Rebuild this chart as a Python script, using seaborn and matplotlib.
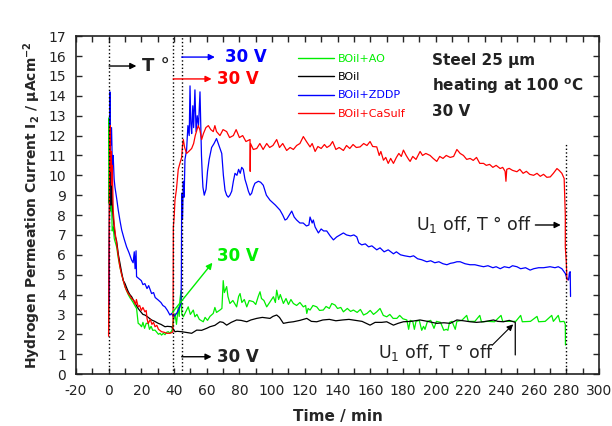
import matplotlib
matplotlib.use("Agg")
import matplotlib.pyplot as plt
import seaborn as sns
import pandas as pd

# ---- data (time in min, current in uA/cm2) ----
boil_t = [0, 0.3, 0.6, 1.0, 1.4, 1.8, 2.2, 2.8, 3.5, 4.2, 4.9, 6, 6.9, 8, 9, 10, 11, 12, 13, 14.1,
          15, 16, 17, 18.1, 19, 20, 21, 22.2, 23.5, 25, 26.3, 28, 30.4, 32, 34.5, 36, 38.5, 39.3, 40.6, 42,
          44.7, 47, 50.8, 53.9, 56.9, 60, 62, 65, 68.1, 70, 72.2, 75, 78.3, 81, 84.5, 87, 90.6, 94, 98.7, 100.5,
          102.8, 104.5, 106.9, 110, 113, 117, 121.2, 124, 127.3, 131, 135, 139, 143, 147, 151, 155, 159.9, 163, 167, 170.1,
          174.2, 177, 180.3, 185, 190.5, 195, 200.7, 205, 208.9, 213, 217, 221.1, 225, 229.3, 235.4, 238, 241.5, 245, 247.6, 248.7,
          248.7]
boil_i = [2.0, 6.0, 9.0, 10.5, 8.5, 10.2, 8.6, 7.9, 7.3, 6.9, 6.7, 6.0, 5.6, 5.1, 4.7, 4.56, 4.35, 4.15, 4.0, 3.89,
          3.75, 3.6, 3.45, 3.3, 3.2, 3.1, 3.0, 2.97, 2.9, 2.8, 2.72, 2.66, 2.55, 2.5, 2.38, 2.4, 2.38, 2.3, 2.13, 2.15,
          2.13, 2.1, 2.05, 2.21, 2.2, 2.3, 2.38, 2.45, 2.63, 2.6, 2.46, 2.6, 2.72, 2.7, 2.63, 2.72, 2.8, 2.85, 2.8, 2.9,
          2.97, 2.85, 2.55, 2.6, 2.63, 2.7, 2.8, 2.65, 2.63, 2.72, 2.75, 2.68, 2.72, 2.75, 2.7, 2.65, 2.46, 2.6, 2.6, 2.63,
          2.46, 2.55, 2.63, 2.65, 2.72, 2.65, 2.55, 2.58, 2.55, 2.72, 2.68, 2.63, 2.6, 2.63, 2.72, 2.65, 2.63, 2.7, 2.63, 2.6,
          0.96]

ao_t = [0, 0.3, 0.6, 1.0, 1.4, 1.8, 2.2, 2.8, 3.5, 4.9, 6, 6.9, 8, 9, 10, 11, 12, 13, 14.1, 15,
        16, 17.1, 17.6, 18.1, 19, 20.2, 21, 22, 23, 24.2, 25, 26, 27, 28.4, 29.5, 30.5, 31.5, 32.4, 33.5, 34.5,
        35.5, 36.5, 37.5, 38.8, 39.5, 40.6, 41.5, 42.6, 43.2, 43.6, 44.3, 44.8, 45.7, 47, 48.7, 50, 51.8, 52.8, 54, 55.5,
        57.9, 59, 60.5, 62, 64, 65, 66, 68.1, 69.3, 70.1, 70.8, 72.2, 73, 74.2, 76, 78.3, 79.5, 80.4, 81.5, 83,
        84.5, 86, 88.5, 90, 91.5, 92.6, 93.5, 95, 96.7, 98.5, 100.8, 102, 102.8, 104, 105, 106.9, 108.5, 110, 111.5, 113,
        115, 117, 119.1, 120.5, 121.2, 122, 123.2, 125, 127.3, 129, 131.3, 133, 135, 136.5, 138.5, 140, 142, 143.6, 146, 148,
        149.7, 152, 154, 155.9, 158, 160, 162, 164, 166, 168, 170.1, 172, 174, 176.3, 178, 180, 182.4, 183.5, 184.5, 186,
        187, 188, 190, 191.5, 192.6, 193.5, 195, 197, 199, 200.5, 203, 205, 206.5, 207.5, 208.5, 210, 212, 213, 216, 219,
        220, 224, 227, 228, 232, 236, 240, 241, 245, 249, 252, 253, 258, 262, 263, 267, 271, 272, 275, 276,
        278.5, 279.3, 279.4]
ao_i = [8.6, 12.9, 10.5, 12.0, 8.2, 8.75, 7.2, 7.4, 6.8, 6.4, 5.8, 5.4, 5.0, 4.7, 4.4, 4.2, 4.0, 3.85, 3.72, 3.6,
        3.45, 3.3, 2.9, 2.55, 2.5, 2.38, 2.6, 2.3, 2.55, 2.55, 2.25, 2.4, 2.2, 2.21, 2.1, 2.0, 2.05, 1.96, 2.05, 1.98,
        2.1, 2.13, 2.05, 2.2, 2.6, 3.05, 2.5, 3.38, 2.9, 3.7, 4.2, 3.0, 2.88, 3.1, 3.38, 3.0, 3.22, 2.88, 3.0, 2.75,
        2.63, 2.85, 2.7, 2.9, 3.05, 3.35, 3.1, 3.22, 3.3, 4.7, 4.1, 4.4, 3.9, 3.55, 3.7, 3.38, 3.9, 4.05, 3.6, 3.75,
        3.38, 3.7, 3.64, 3.5, 3.9, 4.14, 3.8, 3.7, 3.38, 3.6, 3.89, 3.6, 4.22, 3.75, 4.0, 3.55, 3.8, 3.5, 3.75, 3.55,
        3.45, 3.6, 3.38, 3.45, 3.05, 3.3, 3.22, 3.45, 3.38, 3.2, 3.22, 3.4, 3.3, 3.55, 3.47, 3.3, 3.35, 3.13, 3.3, 3.15,
        3.22, 3.1, 3.25, 2.97, 3.05, 3.2, 3.0, 3.13, 3.3, 2.95, 2.88, 3.0, 2.8, 2.8, 2.95, 2.78, 2.72, 2.25, 2.7, 2.65,
        2.25, 2.65, 2.7, 2.2, 2.4, 2.25, 2.65, 2.7, 2.3, 2.65, 2.6, 2.2, 2.25, 2.2, 2.6, 2.65, 2.25, 2.65, 2.7, 2.95,
        2.65, 2.65, 2.95, 2.63, 2.65, 2.63, 2.95, 2.65, 2.65, 2.65, 2.95, 2.63, 2.65, 2.9, 2.63, 2.65, 2.95, 2.65, 2.95, 2.63,
        2.65, 2.5, 1.46]

zddp_t = [0.3, 0.6, 0.8, 1.2, 1.8, 2.3, 2.8, 3.4, 3.9, 5, 5.9, 7, 8, 9.5, 11, 12.5, 14.1, 15, 15.7, 16.2,
          16.8, 17.1, 18.5, 20, 21, 22.2, 23.5, 24.5, 26.3, 27.5, 28.5, 30.4, 32, 33.2, 34.5, 36, 37.5, 38.5, 39.6, 40.5,
          41.6, 42.5, 43.6, 44.3, 44.5, 44.7, 45.2, 45.7, 46.2, 46.7, 47.7, 48.5, 49.3, 49.8, 50.3, 50.8, 51.5, 52, 52.8, 53.5,
          54.2, 55, 55.9, 56.4, 56.8, 57.3, 57.7, 58.5, 59.6, 60.5, 61.5, 63, 64.5, 66, 67.5, 69.2, 70.2, 71.2, 72.2, 73.2,
          74.2, 75.3, 76.3, 77.3, 78.5, 79.5, 80.5, 81.4, 82.4, 83.4, 84.5, 85.5, 86.5, 87.5, 88.5, 89.5, 91.6, 93, 94.6, 96.5,
          98.7, 100, 102, 104.8, 106.5, 107.9, 109, 110.5, 112, 113.5, 115, 117, 119, 121, 122.5, 123.2, 124.5, 125.2, 126.3, 128.3,
          130, 131.5, 133.4, 135.5, 137.5, 139.5, 141.5, 143.6, 145.5, 148, 150, 151.8, 153, 154.8, 157, 159, 161, 164, 166, 168.5,
          171, 174.2, 176, 178.5, 181, 184.4, 186.5, 189, 191.5, 194.6, 197, 199.5, 202, 204.5, 206.9, 209, 211, 213, 215, 218,
          221, 224, 226.5, 229.3, 232, 235, 237, 239.5, 242, 245, 247, 249.7, 252, 255, 257.8, 260, 263, 266, 270, 273,
          275, 277.2, 279.3, 280.3, 281.3, 281.8, 282.3, 282.5]
zddp_i = [3.5, 9.0, 14.2, 11.5, 12.4, 10.5, 11.0, 9.8, 9.4, 8.8, 8.25, 7.7, 7.25, 6.8, 6.4, 6.1, 5.73, 5.6, 6.15, 5.3,
          6.2, 4.9, 4.8, 4.7, 4.5, 4.55, 4.3, 4.45, 4.05, 4.1, 3.85, 3.72, 3.6, 3.45, 3.38, 3.2, 2.97, 3.05, 2.88, 2.95,
          3.05, 3.2, 3.38, 3.6, 4.9, 9.1, 7.8, 9.7, 8.9, 10.8, 11.27, 12.5, 12.0, 14.5, 12.6, 12.1, 13.5, 12.4, 14.3, 12.2,
          13.0, 12.5, 14.2, 12.5, 11.0, 10.0, 9.4, 9.0, 9.3, 10.2, 10.8, 11.4, 11.6, 11.85, 11.5, 11.1, 10.0, 9.25, 9.0, 8.9,
          9.0, 9.2, 9.7, 10.1, 10.0, 10.3, 10.1, 10.4, 10.3, 9.8, 9.5, 9.2, 9.0, 9.1, 9.4, 9.6, 9.7, 9.65, 9.5, 9.0,
          8.75, 8.65, 8.5, 8.25, 8.0, 7.75, 7.8, 8.0, 8.2, 7.9, 7.75, 7.6, 7.6, 7.45, 7.5, 7.9, 7.6, 7.75, 7.4, 7.1,
          7.3, 7.2, 7.2, 6.95, 6.75, 6.9, 7.0, 7.1, 7.0, 6.95, 7.0, 6.9, 6.6, 6.5, 6.55, 6.4, 6.45, 6.25, 6.35, 6.15,
          6.25, 6.05, 6.15, 6.0, 5.95, 5.9, 5.95, 5.8, 5.75, 5.65, 5.7, 5.6, 5.65, 5.55, 5.5, 5.57, 5.6, 5.65, 5.65, 5.55,
          5.5, 5.5, 5.45, 5.4, 5.45, 5.35, 5.4, 5.3, 5.4, 5.35, 5.45, 5.4, 5.3, 5.35, 5.23, 5.3, 5.35, 5.35, 5.4, 5.35,
          5.4, 5.3, 5.06, 4.8, 4.73, 5.1, 5.15, 3.9]

casulf_t = [0, 0.3, 0.6, 0.8, 1.0, 1.3, 1.6, 2.0, 2.3, 2.8, 3.5, 4.2, 4.9, 6, 6.9, 8, 9, 10, 11, 12,
            13, 14.1, 15.5, 16.5, 17, 18.1, 19, 20, 21, 22.2, 23, 23.5, 24.2, 25.5, 26.5, 27.5, 28.4, 29.5, 30.5, 32.4,
            34, 35.5, 37.5, 39.0, 39.4, 39.6, 40.1, 40.6, 41.5, 42.6, 43.6, 44.7, 45.2, 45.7, 46.5, 47.7, 49, 50.8, 52, 53,
            54.8, 55.8, 56.9, 58, 59.5, 61, 62.5, 64, 65, 66, 68.1, 70, 72.2, 74, 76.3, 78, 80, 82, 84, 86.5,
            86.6, 86.8, 88.5, 90.6, 92.5, 94.5, 96.7, 98.5, 100.5, 102.8, 104.5, 106.5, 108.9, 111, 113, 115, 117, 119.1, 121, 123.2,
            124.5, 126.3, 128, 130, 132, 133.5, 135.4, 137, 139, 141, 143.6, 145.5, 147.5, 149.5, 151.5, 153.8, 156, 158, 159.9, 161.5,
            164, 165.5, 166.5, 168.1, 169.5, 171, 172.5, 174.2, 176, 177.5, 179, 180.3, 182, 183.5, 184.4, 186, 188, 190.5, 192, 194,
            196.6, 198.5, 200.7, 202.5, 204.5, 206.5, 208.9, 211, 213, 215, 217, 219, 221.1, 223, 225, 227, 229.3, 231, 233, 235,
            237, 239.5, 241, 242.5, 243, 243.5, 245, 247, 249.7, 251.5, 253.5, 255.5, 257.5, 259.9, 262, 264, 266, 268, 270.1, 272,
            274.2, 275.5, 277.2, 278.6, 279.3, 279.3, 279.9, 280.3]
casulf_i = [1.9, 6.0, 10.0, 11.8, 12.5, 10.2, 11.2, 9.5, 10.5, 8.25, 7.5, 7.0, 6.57, 5.9, 5.4, 5.0, 4.7, 4.4, 4.2, 4.05,
            3.95, 3.8, 3.7, 3.5, 3.75, 3.38, 3.45, 3.2, 3.35, 3.13, 3.2, 2.8, 2.54, 2.75, 2.5, 2.6, 2.38, 2.45, 2.25, 2.13,
            2.1, 2.05, 2.05, 2.1, 2.15, 7.4, 7.9, 8.75, 9.3, 10.3, 10.6, 10.9, 11.5, 11.8, 11.4, 11.1, 11.2, 11.35, 11.6, 12.0,
            12.5, 12.3, 11.8, 12.1, 12.4, 12.5, 12.3, 12.2, 12.5, 12.2, 12.0, 12.3, 12.2, 11.9, 12.0, 12.3, 11.9, 12.0, 11.7, 11.8,
            10.2, 11.6, 11.3, 11.35, 11.6, 11.3, 11.6, 11.4, 11.5, 11.8, 11.4, 11.6, 11.25, 11.4, 11.3, 11.5, 11.6, 11.95, 11.7, 11.43,
            11.6, 11.2, 11.45, 11.35, 11.55, 11.4, 11.5, 11.7, 11.3, 11.4, 11.25, 11.5, 11.35, 11.55, 11.4, 11.43, 11.6, 11.5, 11.7, 11.45,
            11.43, 11.0, 11.2, 10.76, 10.9, 10.6, 10.85, 10.6, 10.9, 11.1, 10.95, 11.27, 11.0, 10.8, 10.7, 10.95, 10.8, 11.2, 11.0, 11.1,
            11.0, 10.85, 10.7, 10.95, 10.85, 11.0, 10.9, 10.95, 11.3, 11.1, 11.0, 10.8, 10.85, 10.75, 10.9, 10.6, 10.6, 10.5, 10.55, 10.4,
            10.5, 10.34, 10.4, 10.2, 9.7, 10.3, 10.35, 10.25, 10.18, 10.3, 10.1, 10.2, 10.05, 10.0, 10.1, 9.95, 10.05, 9.9, 9.92, 10.1,
            10.34, 10.25, 10.1, 9.84, 8.0, 6.4, 5.65, 4.73]

series = [
    ("BOil+AO", ao_t, ao_i, "#00ee00"),
    ("BOil", boil_t, boil_i, "black"),
    ("BOil+ZDDP", zddp_t, zddp_i, "#0000ff"),
    ("BOil+CaSulf", casulf_t, casulf_i, "#ff0000"),
]

sns.set_style("ticks")
plt.rcParams["font.family"] = ["DejaVu Sans"]
plt.rcParams["mathtext.fontset"] = "dejavusans"
plt.rcParams["axes.unicode_minus"] = False

fig = plt.figure(figsize=(6.12, 4.26), dpi=100)
ax = fig.add_axes([0.124, 0.122, 0.855, 0.793])

for name, t, i, c in series:
    df = pd.DataFrame({"t": t, "i": i})
    sns.lineplot(data=df, x="t", y="i", estimator=None, sort=False, color=c, lw=0.9,
                 label=name, ax=ax)

# dotted marker lines (heating on, voltage on, switch off)
for xv, top in [(0, 17), (39.3, 17), (44.7, 17), (279.5, 11.6)]:
    ax.plot([xv, xv], [0, top], ls=":", color="black", lw=1)

ax.set_xlim(-20, 300)
ax.set_ylim(0, 17)
ax.set_xticks(range(-20, 301, 20))
ax.set_xticks(range(-20, 301, 10), minor=True)
ax.set_yticks(range(0, 18))
ax.tick_params(which="both", direction="in", top=True, right=True, length=4, width=1,
               labelsize=10, labelcolor="#222222")
ax.tick_params(axis="x", which="both", pad=7)
ax.tick_params(axis="y", which="both", pad=7)
for s in ax.spines.values():
    s.set_linewidth(1.2)
    s.set_color("#222222")

ax.set_xlabel("Time / min", fontsize=11, fontweight="bold", labelpad=8)
ax.set_ylabel(r"Hydrogen Permeation Current I$_\mathbf{2}$ / μAcm$^{\mathbf{-2}}$",
              fontsize=10, fontweight="bold", labelpad=4)

leg = ax.legend(loc="upper left", bbox_to_anchor=(0.4245, 0.948), frameon=False, fontsize=8,
                handlelength=3.2, handletextpad=0.35, labelspacing=0.75, borderpad=0,
                borderaxespad=0, labelcolor="linecolor")
for line in leg.get_lines():
    line.set_linewidth(1)

arrow = dict(arrowstyle="-|>", color="black", lw=1, mutation_scale=9, shrinkA=0, shrinkB=0)

ax.annotate("", xy=(17, 15.5), xytext=(0.3, 15.5), arrowprops=arrow)
ax.text(20.5, 15.5, "T °", fontsize=13, fontweight="bold", va="center", color="#222222")

ax.annotate("", xy=(65, 15.95), xytext=(44.7, 15.95), arrowprops=dict(arrow, color="#0000ff"))
ax.text(71, 15.95, "30 V", fontsize=12, fontweight="bold", va="center", color="#0000ff")
ax.annotate("", xy=(63, 14.85), xytext=(39.5, 14.85), arrowprops=dict(arrow, color="#ff0000"))
ax.text(66, 14.85, "30 V", fontsize=12, fontweight="bold", va="center", color="#ff0000")
ax.annotate("", xy=(63, 0.87), xytext=(44.7, 0.87), arrowprops=arrow)
ax.text(66, 0.87, "30 V", fontsize=12, fontweight="bold", va="center", color="#222222")
ax.annotate("", xy=(63.5, 5.6), xytext=(39, 3.1), arrowprops=dict(arrow, color="#00ee00"))
ax.text(66, 5.95, "30 V", fontsize=12, fontweight="bold", va="center", color="#00ee00")

ax.text(198, 15.8, "Steel 25 μm", fontsize=11, fontweight="bold", va="center", color="#222222")
ax.text(198, 14.5, r"heating at 100 $^\mathbf{o}$C", fontsize=11, fontweight="bold", va="center",
        color="#222222")
ax.text(198, 13.2, "30 V", fontsize=11, fontweight="bold", va="center", color="#222222")

ax.text(188, 7.5, r"U$_1$ off, T ° off", fontsize=12.5, va="center", color="#222222")
ax.annotate("", xy=(276.5, 7.5), xytext=(261, 7.5), arrowprops=arrow)
ax.text(164.5, 1.1, r"U$_1$ off, T ° off", fontsize=12.5, va="center", color="#222222")
ax.annotate("", xy=(247.4, 2.5), xytext=(234.6, 1.45),
            arrowprops=dict(arrow, lw=0.8))

fig.savefig("out.png", dpi=100)
